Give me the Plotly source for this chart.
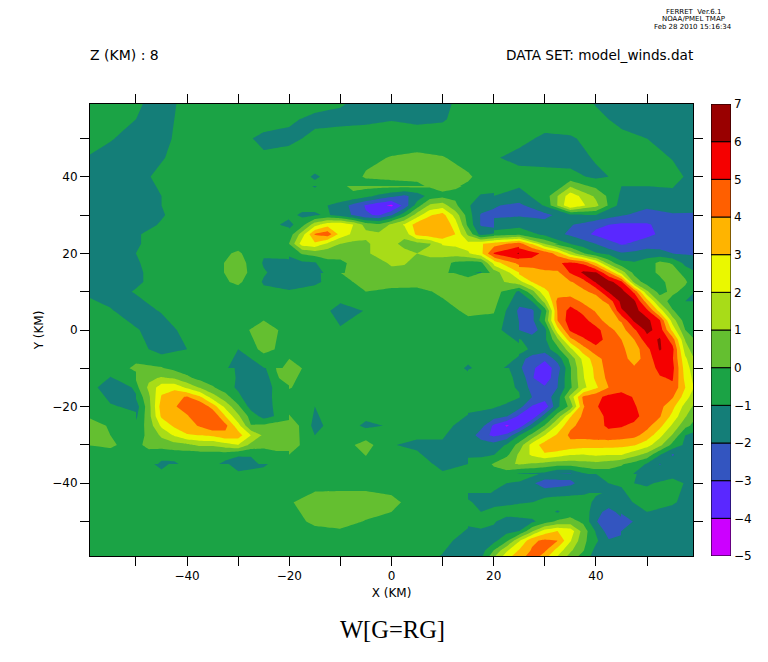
import plotly.graph_objects as go

x_km = [-60,-55,-50,-45,-40,-35,-30,-25,-20,-15,-10,-5,0,5,10,15,20,25,30,35,40,45,50,55,60]
y_km = [-60,-55,-50,-45,-40,-35,-30,-25,-20,-15,-10,-5,0,5,10,12.5,15,17.5,20,22.5,25,27.5,30,32.5,35,40,45,50,55,60]

w_south = [
 [-.5,-.5,-.5,-.5,-.5,-.5,-.5,-.5,-.5,-.5,-.5,-.5,-.5,-.5,-1.2,-1.5,1.3,3.9,3,.3,-1.4,-1.5,-1.6,-1.6,-1.6],
 [-.5,-.5,-.5,-.5,-.5,-.5,-.5,-.5,-.5,-.5,-.5,-.5,-.5,-.5,-.6,-1.6,-1.3,1.9,4.2,2.1,-.8,-1.6,-1.4,-1.5,-1.6],
 [-.5,-.5,-.5,-.5,-.5,-.5,-.5,-.5,-.3,.15,.3,-.05,-.3,-.5,-.5,-.7,-.9,-1.4,-.5,.4,-1.9,-2.4,-1.5,-1.6,-1.7],
 [-.5,-.5,-.5,-.5,-.5,-.5,-.5,-.5,-.1,.5,.5,.5,.3,-.5,-.5,-.8,-1.3,-1.1,-.6,-.5,-1.2,-1.4,-.5,-.9,-1.5],
 [-.5,-.5,-.5,-.5,-.5,-.5,-.5,-.5,-.5,-.4,-.35,-.35,-.5,-.5,-.5,-.5,-.8,-1.2,-2.5,-2.2,-1.1,-.9,-1.1,-.7,-1.4],
 [-.5,-.5,-.5,-1.2,-.5,-.5,-1.3,-1.1,-.5,-.5,-.5,-.3,-.5,-.5,-1.3,-1,.2,1.2,0,-1,-.9,0,-1.4,-1.9,-1.3],
 [0,.1,-.3,.4,.9,1.7,1.6,.3,.5,-.7,-.5,.4,-.95,-1.2,-1.2,-1.4,-1.6,.7,3.7,3.9,3.3,3.2,2.6,.3,-1.3],
 [.5,-.1,-.5,2.8,3.4,4.6,2,-.4,.8,-1.3,-.4,-1.2,-.9,-.5,-.5,-1.7,-3.6,-3.2,-.1,3.9,4.8,5.3,4.5,2.5,-.1],
 [-.5,-.9,-1.2,3.3,4.5,2.8,-1.5,-1.5,-.6,-1,-.4,-.4,-.5,-.5,-.5,-.5,-.8,-1.4,-2.5,2,4.8,5.5,4.5,3.9,.8],
 [-.5,-1.5,-.9,2.5,.9,-.2,-1.2,-1.5,.05,-.4,-.4,-.4,-.5,-.5,-.5,-.5,-.5,-1.05,-2.5,.9,4.2,4.5,4.5,4.5,1.7],
 [-.5,-.6,.2,.1,-.7,-.4,-1.4,-1.05,.4,-.4,-.4,-.4,-.5,-.5,-.5,-1.1,-.5,-1.8,-3.6,-.1,3.3,4.5,4.4,5.3,1],
 [-.5,-.5,-.6,-1.4,-1,-.4,-1,.3,-.4,-.4,-.4,-.4,-.5,-.5,-.6,-.6,-.5,-.6,-2.6,.6,4.9,4,5,5.2,0],
]
w_mid = [
 [-.5,-.6,-.9,-1.6,-.6,-.4,-.3,.4,-.3,-.4,-.9,-.6,-.5,-.5,-.5,-.5,-.6,-1.9,-1.8,5.2,5.1,3.9,6.2,2.5,-.7],
 [-.6,-.9,-1.6,-.9,-.4,-.4,-.4,-.4,-.4,-.4,-1.4,-.95,-.5,-.5,-.4,.2,.1,-2.2,-.3,4.9,3.6,6.3,4.5,.8,-.9],
 [-1.1,-1.5,-.9,-.5,-.4,-.4,-.4,-.8,-.9,-.6,-.4,0,-.3,-.3,.2,.5,.5,-1.2,2.8,3.5,4.3,5.8,2.8,.5,-1.2],
 [-1.5,-1.4,-1.2,-.5,-.4,-.4,.2,-1.1,-1.5,-1.2,-.4,.4,.5,.4,.6,.5,.5,1.7,3.5,3.8,5.4,6.3,1.2,.5,-1.1],
 [-1.5,-1.4,-1.2,-.5,-.4,-.4,.5,-.9,-1.6,-1.3,0,.7,.8,.8,.3,-.5,.4,3,3.6,4.3,6.2,0,-.8,.5,-1],
 [-1.4,-1.5,-1.1,-.5,-.4,-.4,.5,-1.1,-1.4,-1,.2,.4,.7,1.2,.9,-.3,2.5,4.3,4.7,5.3,3.2,-.7,-1.4,.2,-1.5],
 [-1.4,-1.6,-1,-.5,-.4,-.4,.15,-.9,-.4,.5,.3,.9,1.5,1,1.5,2.1,5.1,6.1,5,1,-.7,-1.9,-1.7,-2.1,-2.2],
 [-1.3,-1.6,-1.1,-.6,-.4,-.4,-.4,-.4,-.2,3.2,1.5,.8,1.4,.7,2.6,2.4,3.5,4.5,1,-1,-2,-3.1,-2.6,-2.2,-2.2],
 [-1.3,-1.5,-1.1,-.6,-.4,-.4,-.4,-.4,-.3,4.3,3.2,1.4,1.3,3.5,3.7,.6,-.6,-.2,-1.3,-2.2,-3.2,-3.4,-3.2,-2.6,-2.2],
]
w_north = [
 [-1.3,-1.5,-1.5,-.9,-.4,-.4,-.4,-.5,-1.3,2,3.2,1.5,1.3,3.5,3.8,-.5,-1.6,-1.4,-1.6,-1.9,-2.8,-3.2,-3.1,-2.5,-2.2],
 [-1.5,-1.6,-1.5,-1.1,-.4,-.4,-.4,-.4,-.8,-1.3,-2,-2.5,-.9,3,3.2,-1,-2.2,-2.1,-2.3,-1.3,-1,-1.9,-2.4,-2.1,-2.1],
 [-1.5,-1.7,-1.6,-1,-.4,-.4,-.4,-.4,-.5,-.7,-1.4,-2.6,-4.1,-2,2,-.9,-1.9,-2.3,-.9,3,1.3,-1.5,-1.8,-1.6,-1.7],
 [-1.5,-1.7,-1.5,-1,-.4,-.4,-.4,-.4,-.4,-.5,-.1,-1,-2.3,-1.4,0,-.3,-1,-1.3,-.6,2.6,.8,-1.2,-1.4,-1.2,-1.5],
 [-1.5,-1.7,-1.4,-.7,-.4,-.4,-.4,-.4,-.5,-1.1,-.6,.1,.5,.5,.5,.1,-.5,-.6,-.6,-.7,-1.2,-.8,-.6,-.7,-1.4],
 [-1,-1.5,-1.6,-1.1,-.4,-.4,-.4,-.8,-.5,-.5,-.5,-.2,.05,.2,.05,-.3,-.9,-1.3,-1.4,-1.4,-.9,-.6,-.6,-1.05,-1.5],
 [-.6,-.9,-1.5,-1.4,-.4,-.4,-.6,-1.3,-1.3,-.7,-.5,-.5,-.5,-.5,-.5,-.5,-.5,-.7,-1.2,-1.1,-.7,-.8,-1,-1.5,-1.6],
 [-.4,-.6,-1,-1.6,-.4,-.4,-.4,-.4,-.8,-1.3,-1.3,-1.2,-1.05,-1.2,-1.1,-.5,-.5,-.5,-.5,-.5,-.8,-1.2,-1.5,-1.6,-1.7],
 [-.4,-.5,-.7,-1.6,-.6,-.4,-.4,-.4,-.4,-.4,-.8,-1.3,-1.5,-1.5,-1.2,-.7,-.5,-.5,-.5,-.6,-1.1,-1.5,-1.6,-1.7,-1.7],
]

# finer readings of the detailed features
ridge_x = [25,27.5,30,32.5,35,37.5,40,42.5,45,47.5,50,52.5,55,57.5,60]
ridge_y = [22.5,20,17.5,15,12.5,10,7.5,5,2.5,0,-2.5,-5,-7.5,-10]
ridge_z = [
 [4.5,3,1,-.3,-1,-1.5,-2,-2.8,-3.1,-3,-2.6,-2.4,-2.2,-2.2,-2.2],
 [5.6,5.4,4.7,3.6,1.6,.1,-.9,-1.2,-1.9,-1.7,-1.4,-1.7,-2,-2.1,-2.2],
 [4.5,4.5,4.6,4.9,5.2,4.8,3,.6,-.7,-.9,-.6,.3,-.1,-1.3,-1.5],
 [3.3,3.5,3.8,3.8,5.1,6.2,6.1,4,1.5,-.3,-.6,.3,.5,-.4,-1],
 [1.6,3,3.4,3.6,3.9,4.5,6.1,6.4,5.3,.7,-.5,-.5,.7,.2,-1.1],
 [-1.1,.6,2.8,3.5,3.5,3.8,4.3,6.1,6.4,4.8,1.2,-.4,.3,-.4,-1.2],
 [-1.6,-1,1.4,4.3,4.5,3.8,3.4,4.4,6.3,6.2,3.5,.7,-.5,-1,-1],
 [-2.3,-2.2,-.6,4.1,5.4,4.7,3.9,3.2,5.9,6.4,5.3,2.6,.1,-.7,-.9],
 [-2.5,-2.3,0,4,5.6,5.4,4.4,3.6,4.1,6.2,6.3,5.1,1.5,-.5,-.8],
 [-2,-2.5,-1.4,2.6,5.2,5.7,5.4,4.3,3.6,4.8,6.3,5.6,2.7,0,-.7],
 [-.9,-1.5,-1.2,.8,3.7,4.8,5.6,4.5,4,4,5.6,6.1,4.5,.9,-.3],
 [-.3,-1.3,-1.5,-.3,1.7,3.6,4.6,4.8,4.2,3.5,4.7,6.1,5.3,1.5,0],
 [-1.6,-2.4,-2.8,-1.6,.3,2.3,3.6,4.5,4.6,3.4,4.6,5.5,5.1,2.2,.5],
 [-1.8,-2.8,-3.6,-2.5,-.1,2,3.3,4.5,4.5,4.2,4.4,5.3,5.3,2.5,1],
]
west_x = [-50,-47.5,-45,-42.5,-40,-37.5,-35,-32.5,-30,-27.5,-25,-22.5,-20]
west_y = [-10,-12.5,-15,-17.5,-20,-22.5,-25,-27.5,-30,-32.5,-35]
west_z = [
 [.05,.4,.05,-.3,-.5,-.5,-.5,-.5,-1.2,-1.6,-1.2,.05,.4],
 [.1,.8,1.1,.9,.2,-.3,-.5,-.6,-1.1,-1.7,-1.7,-.1,.4],
 [-.3,1.2,2.6,2.7,1.8,.9,.1,-.5,-1.2,-1.6,-1.8,-.6,-.1],
 [-.9,.8,3.1,3.7,4.1,3.2,1.5,.4,-.7,-1.8,-1.9,-.5,-.5],
 [-1.5,.6,3.5,3.9,4.5,4.9,3.6,1.7,.2,-1.4,-1.7,-.7,-.6],
 [-1.2,.6,3.2,3.5,3.9,4.7,4.9,3,1.2,-.4,-1.4,-.9,-.4],
 [-.7,.4,2.2,3.2,3.6,4.1,4.8,4.3,2.4,.05,.2,.5,.6],
 [-.2,.1,1.2,2.1,2.9,3,3.2,3.7,3.5,2,.8,.8,.8],
 [-.4,.4,.4,.6,.8,1.2,1.2,1.6,2,.7,.6,.7,.7],
 [-.5,-.5,-.6,-.5,-.5,-.5,-.5,-.5,-.9,-.9,-1,-.4,-.4],
 [-.5,-.5,-1.2,-1.2,-.6,-.5,-.7,-1.3,-1.4,-1.3,-.8,-.5,-.5],
]
arc_x = [-20,-17.5,-15,-12.5,-10,-7.5,-5,-2.5,0,2.5,5,7.5,10,12.5,15,17.5,20]
arc_y = [37.5,35,32.5,30,27.5,25,22.5,20,17.5,15]
arc_z = [
 [-.5,-.6,-1.1,-.5,-.3,.3,.3,.3,.3,.3,.3,.1,.4,.1,-.1,-.5,-.5],
 [-.5,-.5,-.5,-.5,-.1,-.3,-.7,-1.2,-1.7,-2.2,-1.6,-.6,-.3,-.2,-.5,-1.1,-1.2],
 [-.5,-.6,-.8,-1,-1.5,-2.3,-3.1,-3.7,-4.2,-2.7,-.5,1.2,1.5,.2,-.9,-1.5,-1.7],
 [-.7,-1.2,-1.1,-.9,-1.4,-2.1,-2.9,-3.1,-2.1,-.4,1.5,2.9,3.4,1.6,-.5,-2.1,-2.6],
 [-1.3,-.4,1.6,2.6,2.8,2,.6,.2,1.2,2.1,3.5,3.7,3.9,2.5,-.3,-2.1,-2.6],
 [-.6,1.5,4.1,4.6,2.6,1.8,1.3,1.2,1.2,1.3,3.3,3.7,3.8,3,.8,-1.4,-.8],
 [0,2.5,2.8,1.8,1,.7,.8,1.4,1.3,.7,.6,.9,2.1,2.2,2.3,2.9,3.5],
 [-.8,.1,.4,.3,.5,.7,.9,1.2,1.3,1.3,1,1.4,1.4,1.5,1.9,2.7,5.1],
 [-1.4,-1.2,-1.1,-.2,-.3,.3,.5,.8,1.1,1.05,.8,.4,.4,-.2,-.4,-.3,2.3],
 [-1.5,-1.5,-1.4,-.8,-.2,.4,.6,.7,.8,.8,.7,.5,.4,-.5,-.9,-1.1,.5],
]
body_x = [15,17.5,20,22.5,25,27.5,30,32.5,35,37.5,40,42.5,45,47.5,50,52.5,55,57.5,60]
body_y = [-10,-12.5,-15,-17.5,-20,-22.5,-25,-27.5,-30,-32.5,-35,-37.5]
body_z = [
 [-1.1,-.8,-.5,-.8,-1.8,-2.8,-3.6,-2.5,-.1,2,3.3,4.5,4.5,4.2,4.4,5.3,5.3,2.5,1],
 [-.5,-.5,-.5,-.9,-1.1,-2.9,-3.8,-2.1,-.1,1.9,3.2,4.3,4.5,4.3,4.4,4.9,5.1,2.7,1.3],
 [-.5,-.5,-.5,-.9,-1.05,-2.4,-2.8,-2,-.2,1.7,2.8,4,4.5,4.5,4.5,4.5,4.8,3,1.5],
 [-.5,-.5,-.5,-.6,-.95,-2,-2.5,-1.5,1.3,4.2,4.7,5.3,5.5,4.9,4.5,4.3,4.1,2.5,.9],
 [-.6,-.7,-.9,-1.2,-1.6,-3.1,-3.7,-1.2,.3,3.9,4.9,5.5,5.5,5.1,4.5,4.3,3.3,1.6,.5],
 [-1.2,-1.4,-1.5,-1.9,-3.2,-3.8,-1.5,.5,2.9,4.2,4.4,5.4,5.5,5.4,4.4,4.1,2.7,1.1,-.1],
 [-1.1,-1.6,-3.2,-4.1,-3.6,-1.5,.1,2.2,3.8,4.3,4.6,5.2,5.1,4.7,4.3,3.3,1.8,.3,-.5],
 [-1.2,-2.6,-3.2,-2.8,-1,.3,2,3.2,4.2,4.3,4.5,4.6,4.5,4.3,3.6,2.3,.9,-1,-1.5],
 [-1.1,-1.3,-1.6,-.9,.4,2.4,3.5,4,3.7,3.5,3.4,3.4,3.3,3.1,2.4,1.3,-.3,-1.2,-1.5],
 [-1.2,-1.2,-1.05,-.3,1.2,2.2,2.9,2.5,2.1,2,2.2,2.1,2.1,1.4,.7,-.9,-2.1,-1.4,-1.3],
 [-.6,-.5,.1,.8,1.1,.9,.6,.4,.4,.6,.7,.5,.1,-.4,-1.1,-2.05,-1.6,-1.4,-1.3],
 [-.5,-.4,-.3,-.5,-1.1,-1.2,-1.3,-2,-2.1,-1.2,-.7,-.5,-.5,-1.05,-1.4,-1.5,-1.4,-1,-1],
]
foot_x = [15,17.5,20,22.5,25,27.5,30,32.5,35,37.5,40,42.5,45]
foot_y = [-42.5,-45,-47.5,-50,-52.5,-55,-57.5,-60]
foot_z = [
 [-1.4,-1.4,-1.4,-1.4,-1.4,-1.4,-1.4,-1.3,-1.2,-1.1,-.9,-1.1,-1.3],
 [-.8,-1.4,-1.3,-1.2,-1.1,-1,-.6,-.5,-.5,-.6,-1.2,-1.3,-1.4],
 [-.6,-1,-.7,-.6,-.4,-.5,-.6,-1.1,-.5,-.5,-1.5,-2.5,-1.6],
 [-.7,-.7,-.9,-1.4,-1.4,-1.2,-.5,.2,.4,-.2,-1.9,-2.9,-2.4],
 [-1.3,-1.1,-1.2,-1.3,-1,.8,2.5,3,2.6,.6,-1.1,-2.5,-2.3],
 [-1.6,-1.5,-1.3,-.2,1.9,3.8,4.2,4,2.1,.3,-.8,-1.9,-1.6],
 [-1.6,-1.5,0,1.8,3.1,4.1,4.2,2.6,1.2,.1,-1.3,-1.5,-1.5],
 [-1.6,-1,1.3,2.9,3.9,4.3,3,1.6,.3,-.7,-1.4,-1.5,-1.5],
]

levels = [-5,-4,-3,-2,-1,0,1,2,3,4,5,6]
level_colors = ["#cc00ff","#5a28ff","#3355c0","#147e78","#1ba345","#64bf30",
                "#a8dc18","#eaf800","#ffb400","#ff5f00","#f50000","#990000"]
xy_ticks = [-50,-40,-30,-20,-10,0,10,20,30,40,50]
xy_labels = ["","\u221240","","\u221220","","0","","20","","40",""]
cb_ticks = [-5,-4,-3,-2,-1,0,1,2,3,4,5,6,7]
cb_labels = ["\u22125","\u22124","\u22123","\u22122","\u22121","0","1","2","3","4","5","6","7"]

W, H = 768, 662
L, R, T, B = 90, 693, 104, 556
AR = 731
font = "DejaVu Sans"
RANGE = 59.0

def snap(values, size):
    # nudge a patch's outer coordinates onto whole pixels so its edge stays invisible
    k = size / (2 * RANGE)
    out = list(values)
    for i in (0, -1):
        out[i] = round((out[i] + RANGE) * k) / k - RANGE
    return out

z = w_south + w_mid + w_north
n = len(levels)
scale = []
for i, c in enumerate(level_colors):
    scale += [[i/n, c], [(i+1)/n, c]]

fig = go.Figure()
fig.add_trace(go.Contour(
    x=x_km, y=y_km, z=z, zmin=-5, zmax=7, colorscale=scale, showscale=False,
    autocontour=False, contours=dict(start=-5, end=7, size=1, coloring="fill", showlines=False),
    line=dict(width=0, smoothing=0), hoverinfo="skip"))
for xs, ys, zs in [(ridge_x, ridge_y, ridge_z), (west_x, west_y, west_z),
                   (arc_x, arc_y, arc_z), (body_x, body_y, body_z), (foot_x, foot_y, foot_z)]:
    fig.add_trace(go.Contour(
        x=snap(xs, R-L), y=snap(ys, B-T), z=zs, zmin=-5, zmax=7, colorscale=scale, showscale=False,
        autocontour=False, contours=dict(start=-5, end=7, size=1, coloring="fill", showlines=False),
        line=dict(width=0, smoothing=0), hoverinfo="skip"))
fig.add_trace(go.Bar(
    x=[0]*n, y=[1]*n, base=levels, width=1, xaxis="x2", yaxis="y2",
    marker=dict(color=level_colors, line=dict(color="black", width=1)), hoverinfo="skip"))

axis = dict(tickmode="array", tickvals=xy_ticks, ticktext=xy_labels, ticks="outside", ticklen=9,
            tickwidth=1, tickcolor="black", showline=True, linecolor="black", linewidth=1,
            mirror="ticks", showgrid=False, zeroline=False, automargin=False,
            tickfont=dict(family=font, size=12, color="black"))
fig.update_layout(
    width=W, height=H, margin=dict(l=L, r=W-AR, t=T, b=H-B, autoexpand=False), paper_bgcolor="white", plot_bgcolor="white",
    showlegend=False, font=dict(family=font, color="black"),
    xaxis=dict(range=[-RANGE, RANGE], domain=[0, (R-L)/(AR-L)], title=dict(text="X (KM)", standoff=6, font=dict(family=font, size=12)), **axis),
    yaxis=dict(range=[-RANGE, RANGE], title=dict(text="Y (KM)", standoff=6, font=dict(family=font, size=12)), **axis),
    xaxis2=dict(domain=[(711-L)/(AR-L), 1], range=[-.5, .5], anchor="y2", showticklabels=False,
                ticks="", showgrid=False, zeroline=False),
    yaxis2=dict(domain=[0, 1], range=[-5, 7], anchor="x2", side="right", tickmode="array", tickvals=cb_ticks,
                ticktext=cb_labels, ticks="", showgrid=False, zeroline=False, ticklabelstandoff=2,
                tickfont=dict(family=font, size=12, color="black")),
)

def txt(s, px, py, size, anchor="left", family=font):
    fig.add_annotation(text=s, xref="paper", yref="paper", x=(px-L)/(AR-L), y=(B-py)/(B-T),
                       xanchor=anchor, yanchor="middle", showarrow=False,
                       font=dict(family=family, size=size, color="black"))

txt("Z (KM) : 8", 88, 55, 14)
txt("DATA SET: model_winds.dat", 695, 55, 13.6, "right")
txt("FERRET  Ver.6.1", 693, 12, 7, "center")
txt("NOAA/PMEL TMAP", 693, 19, 7, "center")
txt("Feb 28 2010 15:16:34", 693, 27, 7, "center")
txt("W[G=RG]", 392, 629, 24.5, "center", "Liberation Serif")

fig.write_html("out.html", config={"displayModeBar": False},
    post_script="document.body.style.margin='0';")
